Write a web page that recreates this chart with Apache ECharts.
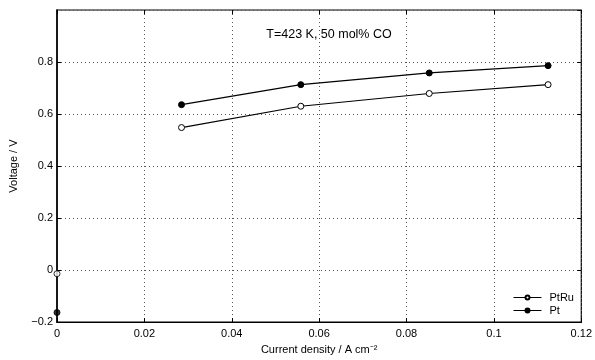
<!DOCTYPE html>
<html>
<head>
<meta charset="utf-8">
<script src="https://cdn.jsdelivr.net/npm/echarts@6/dist/echarts.min.js"></script>
<style>
  html, body { margin: 0; padding: 0; background: #fff; }
  #chart { width: 595px; height: 360px; }
</style>
</head>
<body>
<div id="chart"></div>
<script>
// current density (A cm^-2) for the polarisation points
const currentDensity = [0.0285, 0.0558, 0.0852, 0.1124];
const ptRuVoltage = [0.548, 0.630, 0.679, 0.713];
const ptVoltage = [0.636, 0.713, 0.758, 0.786];
// open-circuit points drawn on their own at zero current
const ocvCurrent = 0;
const ptRuOcv = -0.014;
const ptOcv = -0.163;

const font = 'Liberation Sans, Arial, sans-serif';

const chart = echarts.init(document.getElementById('chart'));

const pairs = (xs, ys) => xs.map((x, i) => [x, ys[i]]);
const fmt = v => String(+v.toFixed(2)).replace('-', '\u2212');

const gridLine = { show: true, lineStyle: { color: '#555', type: [1, 3], width: 1 } };
const tick = { show: true, inside: true, length: 4, lineStyle: { color: '#000' } };

const option = {
    animation: false,
    backgroundColor: '#fff',
    title: {
        text: 'T=423 K, 50 mol% CO',
        left: 324,
        top: 23,
        textAlign: 'center',
        textStyle: { fontFamily: font, fontSize: 12.5, fontWeight: 'normal', color: '#000' }
    },
    legend: {
        orient: 'vertical',
        left: 513,
        top: 292,
        padding: 0,
        itemWidth: 28,
        itemHeight: 5,
        itemGap: 2,
        data: ['PtRu', 'Pt'],
        lineStyle: { width: 1 },
        textStyle: { fontFamily: font, fontSize: 11, color: '#000', padding: [0, 0, 0, 3] }
    },
    grid: { left: 57, right: 12, top: 10, bottom: 33, show: true, borderColor: '#000', borderWidth: 1.2 },
    xAxis: [
        {
            type: 'value',
            min: 0,
            max: 0.12,
            interval: 0.02,
            name: 'Current density / A cm\u207B\u00B2',
            nameLocation: 'middle',
            nameGap: 19,
            nameTextStyle: { fontFamily: font, fontSize: 11, color: '#000' },
            axisLine: { show: true, onZero: false, lineStyle: { color: '#000', width: 1.2 } },
            axisTick: tick,
            axisLabel: { fontFamily: font, fontSize: 11, color: '#000', margin: 6, formatter: fmt },
            splitLine: gridLine
        },
        {
            type: 'value',
            position: 'top',
            min: 0,
            max: 0.12,
            interval: 0.02,
            axisLine: { show: false, onZero: false },
            axisTick: tick,
            axisLabel: { show: false },
            splitLine: { show: false }
        }
    ],
    yAxis: [
        {
            type: 'value',
            min: -0.2,
            max: 1.0,
            interval: 0.2,
            name: 'Voltage / V',
            nameLocation: 'middle',
            nameGap: 38,
            nameTextStyle: { fontFamily: font, fontSize: 11, color: '#000' },
            axisLine: { show: true, onZero: false, lineStyle: { color: '#000', width: 1.5 } },
            axisTick: tick,
            axisLabel: { fontFamily: font, fontSize: 11, color: '#000', margin: 4, showMaxLabel: false, formatter: fmt },
            splitLine: gridLine
        },
        {
            type: 'value',
            position: 'right',
            min: -0.2,
            max: 1.0,
            interval: 0.2,
            axisLine: { show: false, onZero: false },
            axisTick: tick,
            axisLabel: { show: false },
            splitLine: { show: false }
        }
    ],
    series: [
        {
            name: 'PtRu',
            type: 'line',
            data: pairs(currentDensity, ptRuVoltage),
            symbol: 'circle',
            symbolSize: 6,
            itemStyle: { color: '#fff', borderColor: '#000', borderWidth: 1 },
            lineStyle: { color: '#000', width: 1.2 },
            z: 3
        },
        {
            name: 'Pt',
            type: 'line',
            data: pairs(currentDensity, ptVoltage),
            symbol: 'circle',
            symbolSize: 6,
            itemStyle: { color: '#000', borderColor: '#000', borderWidth: 1 },
            lineStyle: { color: '#000', width: 1.2 },
            z: 3
        },
        {
            name: 'PtRu',
            type: 'scatter',
            data: [[ocvCurrent, ptRuOcv]],
            symbol: 'circle',
            symbolSize: 6,
            itemStyle: { color: '#fff', borderColor: '#000', borderWidth: 1 },
            z: 4
        },
        {
            name: 'Pt',
            type: 'scatter',
            data: [[ocvCurrent, ptOcv]],
            symbol: 'circle',
            symbolSize: 6,
            itemStyle: { color: '#000', borderColor: '#000', borderWidth: 1 },
            z: 4
        }
    ]
};

chart.setOption(option);
</script>
</body>
</html>
